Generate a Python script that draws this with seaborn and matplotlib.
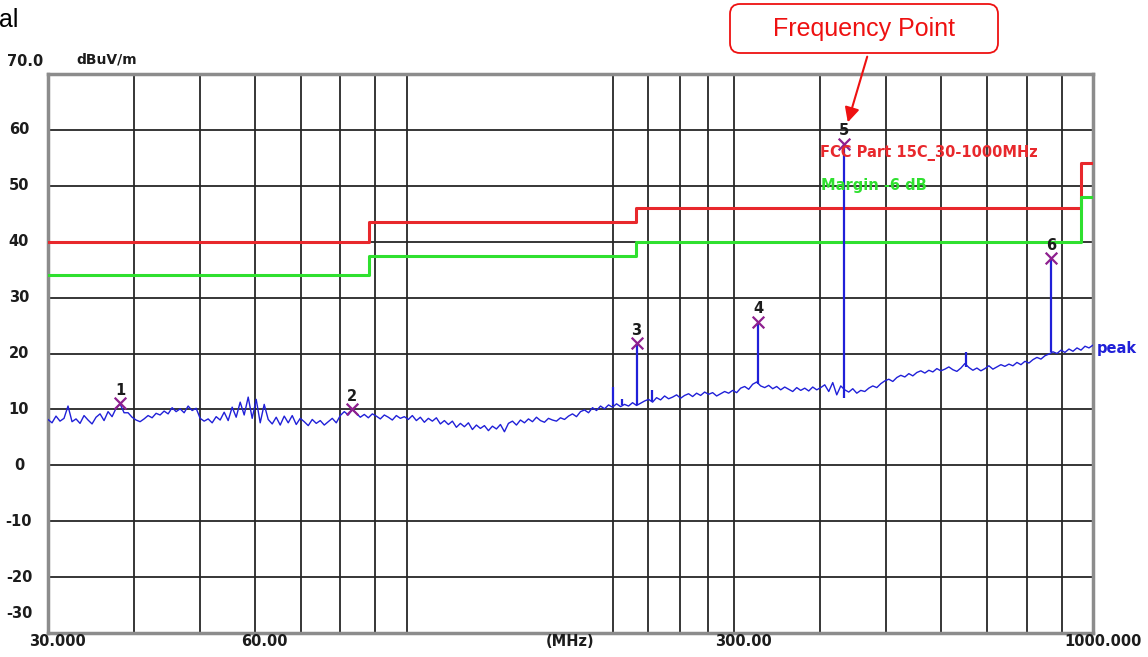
import numpy as np
import matplotlib
matplotlib.use('Agg')
import matplotlib.pyplot as plt
import seaborn as sns
from matplotlib.patches import FancyBboxPatch, FancyArrowPatch
from matplotlib.ticker import NullLocator

# measured peak trace (dBuV/m), sampled evenly on the log frequency axis 30..1000 MHz
trace_level = [
    8.2, 7.6, 8.8, 7.9, 8.4, 10.6, 7.8, 8.3, 7.5, 8.9,
    8.1, 7.4, 8.6, 9.2, 8.0, 9.6, 8.7, 10.2, 11.0, 9.4,
    9.4, 8.6, 8.1, 7.8, 8.3, 8.9, 8.5, 9.3, 9.0, 9.7,
    9.2, 10.3, 9.6, 10.1, 9.4, 10.6, 9.8, 10.2, 8.4, 7.9,
    8.3, 7.6, 8.7, 8.1, 9.5, 8.0, 10.4, 8.6, 11.3, 9.0,
    12.2, 8.4, 11.8, 7.6, 10.9, 8.2, 7.4, 8.6, 7.2, 8.8,
    7.6, 8.9, 7.3, 8.4, 7.8, 7.1, 8.2, 7.5, 8.0, 7.2,
    7.8, 8.4, 7.6, 8.9, 9.6, 9.0, 10.0, 9.3, 8.6, 9.1,
    8.5, 9.2, 8.8, 8.3, 9.0, 8.6, 8.1, 8.9, 8.4, 8.7,
    8.2, 8.9, 8.0, 8.6, 7.7, 8.4, 7.9, 8.5, 7.4, 8.0,
    7.3, 7.9, 6.8, 7.5, 6.9, 7.6, 6.4, 7.2, 6.6, 7.1,
    6.2, 7.0, 6.5, 7.3, 6.0, 7.5, 7.9, 7.2, 8.1, 7.6,
    8.3, 7.8, 8.6, 8.0, 7.7, 8.4, 8.1, 7.9, 8.5, 8.2,
    8.8, 9.2, 8.7, 9.6, 9.9, 9.4, 10.3, 9.8, 10.6, 10.1,
    10.8, 10.4, 11.0, 10.5, 10.9, 10.6, 11.2, 10.7, 11.1, 11.5,
    11.8, 11.3, 12.1, 11.7, 12.4, 11.9, 12.2, 12.6, 12.0, 12.5,
    12.8, 12.3, 12.9, 12.5, 13.1, 12.7, 13.0, 12.4, 12.8, 13.2,
    12.9, 13.4, 13.0, 13.8, 14.1, 13.6, 14.5, 14.9, 14.2, 13.9,
    14.3, 13.7, 14.1, 13.5, 14.0, 13.6, 13.2, 13.9, 13.4, 13.8,
    13.3, 14.0, 13.5, 13.9, 14.4, 13.2, 14.8, 12.6, 14.2, 13.5,
    13.1, 13.7, 12.9, 13.4, 13.2, 13.8, 14.2, 13.9, 14.6, 15.1,
    15.4, 15.0, 15.7, 16.1, 15.8, 16.4, 16.0, 16.6, 16.9, 16.5,
    17.0, 16.7, 17.3, 16.9, 17.2, 17.6, 17.1, 16.8, 17.4, 18.2,
    17.5, 17.0, 17.4, 16.9, 17.3, 17.8, 17.2, 17.6, 18.0, 17.7,
    18.1, 17.8, 18.4, 18.0, 18.6, 18.3, 18.9, 19.3, 19.0, 19.6,
    19.9, 20.3, 20.0, 20.6, 20.2, 20.8, 20.4, 21.0, 20.6, 21.3, 21.0, 21.5,
]
trace_freq = np.geomspace(30, 1000, len(trace_level))

# narrow emissions in the trace
spike_freq = [200.0, 206.0, 216.2, 228.0, 325.0, 433.6, 652.8, 868.5]
spike_base = [10.8, 10.8, 10.8, 11.5, 14.5, 12.1, 17.5, 20.2]
spike_peak = [14.0, 11.8, 21.8, 13.4, 25.7, 57.5, 20.2, 37.0]

# marked frequency points
marker_no = ['1', '2', '3', '4', '5', '6']
marker_freq = [38.2, 83.2, 216.2, 325.0, 433.6, 868.5]
marker_level = [11.1, 10.0, 21.8, 25.7, 57.5, 37.0]

# FCC Part 15C limit and the 6 dB margin line
limit_edges = [30, 88, 216, 960, 1000]
fcc_limit = [40, 43.5, 46, 54]
margin_db = 6

x_grid = [40, 50, 60, 70, 80, 90, 100, 200, 225, 250, 275, 300,
          400, 500, 600, 700, 800, 900]
x_label_freq = [30, 60, 300, 1000]
x_label_text = ['30.000', '60.00', '300.00', '1000.000']
y_grid = [-20, -10, 0, 10, 20, 30, 40, 50, 60]
y_label_val = [60, 50, 40, 30, 20, 10, 0, -10, -20]
y_label_text = ['60', '50', '40', '30', '20', '10', '0', '-10', '-20']

sns.set_style('white')
plt.rcParams['font.family'] = ['DejaVu Sans']

fig = plt.figure(figsize=(11.48, 6.57), dpi=100)
ax = fig.add_axes([48 / 1148, 1 - 633 / 657, 1045 / 1148, 559 / 657])

red = '#e8282c'
green = '#2fe02f'
blue = '#2020d8'
ink = '#1c1c1c'

fcc_y = fcc_limit + fcc_limit[-1:]
margin_y = [v - margin_db for v in fcc_y]
sns.lineplot(x=limit_edges, y=fcc_y, drawstyle='steps-post', color=red, lw=2.2,
             estimator=None, sort=False, ax=ax, zorder=3)
sns.lineplot(x=limit_edges, y=margin_y, drawstyle='steps-post', color=green, lw=2.2,
             estimator=None, sort=False, ax=ax, zorder=3)

sns.lineplot(x=trace_freq, y=trace_level, color=blue, lw=1.0, estimator=None,
             ax=ax, zorder=4)
ax.vlines(spike_freq, spike_base, spike_peak, color=blue, lw=1.6, zorder=4)

sns.scatterplot(x=marker_freq, y=marker_level, marker='x', s=70, color='#8e1f8e',
                linewidth=1.6, ax=ax, zorder=5)
for n, f, v in zip(marker_no, marker_freq, marker_level):
    ax.annotate(n, (f, v), xytext=(0, 9.5), textcoords='offset points', ha='center',
                va='center', fontsize=10.5, fontweight='bold', color=ink, zorder=6)

ax.set_xscale('log')
ax.set_xlim(30, 1000)
ax.set_ylim(-30, 70)
ax.set_xticks(x_grid)
ax.xaxis.set_minor_locator(NullLocator())
ax.set_yticks(y_grid)
ax.tick_params(length=0, labelbottom=False, labelleft=False)
ax.grid(True, color='#262626', lw=1.3)
for s in ax.spines.values():
    s.set_color('#8c8c8c')
    s.set_linewidth(2.5)

# axis labels written like the receiver software does
ytr = ax.get_yaxis_transform()
for v, t in zip(y_label_val, y_label_text):
    ax.text(-0.0278, v, t, transform=ytr, ha='center', va='center',
            fontsize=10.5, fontweight='bold', color=ink)
ax.text(-0.022, 1.0215, '70.0', transform=ax.transAxes, ha='center', va='center',
        fontsize=10.5, fontweight='bold', color=ink)
ax.text(-0.0278, 19 / 559, '-30', transform=ax.transAxes, ha='center', va='center',
        fontsize=10.5, fontweight='bold', color=ink)
ax.text(0.0565, 1.0255, 'dBuV/m', transform=ax.transAxes, ha='center', va='center',
        fontsize=10, fontweight='bold', color=ink)

xtr = ax.get_xaxis_transform()
for f, t in zip(x_label_freq, x_label_text):
    ax.annotate(t, (f, -0.016), xycoords=xtr, xytext=(7, 0), textcoords='offset points',
                ha='center', va='center', fontsize=10.5, fontweight='bold',
                color=ink, annotation_clip=False)
ax.text(173, -0.016, '(MHz)', transform=xtr, ha='center', va='center',
        fontsize=10.5, fontweight='bold', color=ink)

ax.text(400, 55.9, 'FCC Part 15C_30-1000MHz', ha='left', va='center',
        fontsize=10.5, fontweight='bold', color=red, zorder=6)
ax.text(402, 50.0, 'Margin -6 dB', ha='left', va='center',
        fontsize=10.5, fontweight='bold', color=green, zorder=6)
ax.text(1.004, 20.9, 'peak', transform=ytr, ha='left', va='center',
        fontsize=10.5, fontweight='bold', color=blue)

# callout above the plot
box = FancyBboxPatch((7.30, 6.04), 2.68, 0.49, boxstyle='round,pad=0,rounding_size=0.1',
                     transform=fig.dpi_scale_trans, fc='white', ec='#ee1111', lw=1.3)
fig.add_artist(box)
fig.text(864 / 1148, 1 - 29 / 657, 'Frequency Point', ha='center', va='center',
         fontsize=18, color='#ee1111', family=['Liberation Sans', 'DejaVu Sans'])
arrow = FancyArrowPatch((868 / 1148, 1 - 54 / 657), (847 / 1148, 1 - 125 / 657),
                        transform=fig.transFigure, arrowstyle='-|>', mutation_scale=22,
                        color='#ee1111', lw=1.5)
fig.add_artist(arrow)
fig.text(18 / 1148, 1 - 20 / 657, 'al', ha='right', va='center', fontsize=18,
         color='black', family=['Liberation Sans', 'DejaVu Sans'])

fig.savefig('out.png', dpi=100)
